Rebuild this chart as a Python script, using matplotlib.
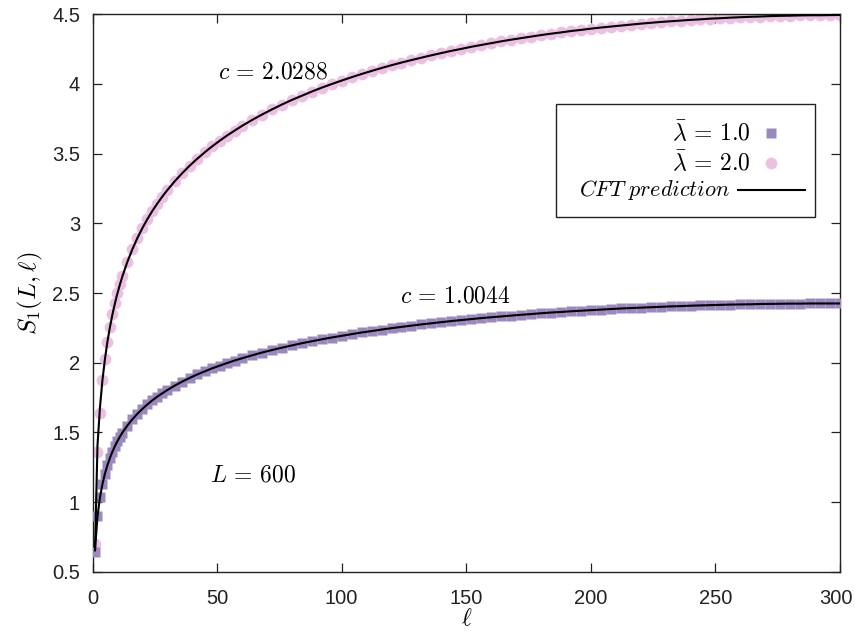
import matplotlib
matplotlib.use("Agg")
import matplotlib.pyplot as plt
import matplotlib.transforms as mtransforms
from matplotlib.patches import Rectangle

plt.rcParams['mathtext.fontset'] = 'cm'
plt.rcParams['font.family'] = ['Liberation Sans', 'DejaVu Sans']

# subsystem sizes (L = 600)
ell = [1, 2, 3, 4, 5, 6, 7, 8, 9, 10, 11, 12,
       14, 16, 18, 20, 22, 24, 26, 28, 30,
       33, 36, 39, 42, 45, 48, 51, 54, 57, 60,
       64, 68, 72, 76, 80, 84, 88, 92, 96, 100, 104, 108, 112, 116, 120,
       124, 128, 132, 136, 140, 144, 148, 152, 156, 160, 164, 168, 172,
       176, 180, 184, 188, 192, 196, 200, 204, 208, 212, 216, 220, 224,
       228, 232, 236, 240, 244, 248, 252, 256, 260, 264, 268, 272, 276,
       280, 284, 288, 292, 296, 300]

# lambda_bar = 1.0 data
s_lam1 = [0.640, 0.899, 1.035, 1.131, 1.206, 1.267, 1.318, 1.363, 1.403, 1.438, 1.470, 1.499,
          1.550, 1.595, 1.634, 1.669, 1.701, 1.730, 1.757, 1.781, 1.804,
          1.836, 1.865, 1.891, 1.916, 1.938, 1.960, 1.979, 1.998, 2.016, 2.032,
          2.053, 2.073, 2.091, 2.108, 2.124, 2.140, 2.154, 2.168, 2.181, 2.193, 2.205, 2.217, 2.227, 2.238, 2.248,
          2.257, 2.266, 2.275, 2.283, 2.291, 2.299, 2.306, 2.313, 2.320, 2.326, 2.332, 2.338, 2.344,
          2.349, 2.355, 2.360, 2.364, 2.369, 2.373, 2.377, 2.381, 2.385, 2.389, 2.392, 2.395, 2.398,
          2.401, 2.404, 2.406, 2.409, 2.411, 2.413, 2.415, 2.417, 2.418, 2.419, 2.421, 2.422, 2.423,
          2.424, 2.424, 2.425, 2.425, 2.425, 2.425]

# lambda_bar = 2.0 data
s_lam2 = [0.700, 1.360, 1.640, 1.878, 2.028, 2.152, 2.256, 2.346, 2.426, 2.497, 2.561, 2.620,
          2.724, 2.814, 2.894, 2.965, 3.029, 3.088, 3.141, 3.191, 3.237,
          3.301, 3.359, 3.413, 3.462, 3.508, 3.551, 3.591, 3.629, 3.664, 3.698,
          3.740, 3.779, 3.816, 3.851, 3.884, 3.914, 3.944, 3.972, 3.998, 4.023, 4.047, 4.070, 4.092, 4.113, 4.133,
          4.152, 4.170, 4.187, 4.204, 4.220, 4.236, 4.250, 4.265, 4.278, 4.291, 4.304, 4.316, 4.327,
          4.338, 4.349, 4.359, 4.368, 4.378, 4.386, 4.395, 4.403, 4.410, 4.417, 4.424, 4.431, 4.437,
          4.443, 4.448, 4.453, 4.458, 4.462, 4.467, 4.470, 4.474, 4.477, 4.480, 4.482, 4.485, 4.487,
          4.488, 4.490, 4.491, 4.491, 4.492, 4.492]

# CFT prediction curves (c = 1.0044 and c = 2.0288)
cft_c1 = [0.655, 0.899, 1.035, 1.131, 1.206, 1.267, 1.318, 1.363, 1.403, 1.438, 1.470, 1.499,
          1.550, 1.595, 1.634, 1.669, 1.701, 1.730, 1.757, 1.781, 1.804,
          1.836, 1.865, 1.891, 1.916, 1.938, 1.960, 1.979, 1.998, 2.016, 2.032,
          2.053, 2.073, 2.091, 2.108, 2.124, 2.140, 2.154, 2.168, 2.181, 2.193, 2.205, 2.217, 2.227, 2.238, 2.248,
          2.257, 2.266, 2.275, 2.283, 2.291, 2.299, 2.306, 2.313, 2.320, 2.326, 2.332, 2.338, 2.344,
          2.349, 2.355, 2.360, 2.364, 2.369, 2.373, 2.377, 2.381, 2.385, 2.389, 2.392, 2.395, 2.398,
          2.401, 2.404, 2.406, 2.409, 2.411, 2.413, 2.415, 2.417, 2.418, 2.419, 2.421, 2.422, 2.423,
          2.424, 2.424, 2.425, 2.425, 2.425, 2.425]
cft_c2 = [0.660, 1.409, 1.683, 1.878, 2.028, 2.152, 2.256, 2.346, 2.426, 2.497, 2.561, 2.620,
          2.724, 2.814, 2.894, 2.965, 3.029, 3.088, 3.141, 3.191, 3.237,
          3.301, 3.359, 3.413, 3.462, 3.508, 3.551, 3.591, 3.629, 3.664, 3.698,
          3.740, 3.779, 3.816, 3.851, 3.884, 3.914, 3.944, 3.972, 3.998, 4.023, 4.047, 4.070, 4.092, 4.113, 4.133,
          4.152, 4.170, 4.187, 4.204, 4.220, 4.236, 4.250, 4.265, 4.278, 4.291, 4.304, 4.316, 4.327,
          4.338, 4.349, 4.359, 4.368, 4.378, 4.386, 4.395, 4.403, 4.410, 4.417, 4.424, 4.431, 4.437,
          4.443, 4.448, 4.453, 4.458, 4.462, 4.467, 4.470, 4.474, 4.477, 4.480, 4.482, 4.485, 4.487,
          4.488, 4.490, 4.491, 4.491, 4.492, 4.493]

xticks = [0, 50, 100, 150, 200, 250, 300]
yticks = [0.5, 1, 1.5, 2, 2.5, 3, 3.5, 4, 4.5]
ytick_labels = ['0.5', '1', '1.5', '2', '2.5', '3', '3.5', '4', '4.5']

purple = '#9a88bf'
pink = '#ecc0e2'

fig = plt.figure(figsize=(8.55, 6.34), dpi=100)
ax = fig.add_axes([0.1082, 0.0978, 0.8743, 0.8801])

ax.plot(ell, s_lam2, 'o', color=pink, ms=8.5, mec='none', zorder=2)
ax.plot(ell, s_lam1, 's', color=purple, ms=7.5, mec='none', zorder=3)
ax.plot(ell, cft_c1, '-', color='black', lw=1.5, zorder=4)
ax.plot(ell, cft_c2, '-', color='black', lw=1.5, zorder=4)

ax.set_xlim(0, 300)
ax.set_ylim(0.5, 4.5)
ax.set_xticks(xticks)
ax.set_yticks(yticks)
ax.set_yticklabels(ytick_labels)
ax.tick_params(direction='in', length=6.5, width=0.9, labelsize=14.5,
               top=True, right=True, pad=9, colors='#222222')
ax.tick_params(axis='x', pad=12)
for sp in ax.spines.values():
    sp.set_linewidth(1.0)
    sp.set_color('#222222')

# nudge the last x label so it stays inside the canvas
last = ax.get_xticklabels()[-1]
last.set_transform(last.get_transform() +
                   mtransforms.ScaledTranslation(-4 / 100, 0, fig.dpi_scale_trans))

ax.set_xlabel(r'$\ell$', fontsize=17, labelpad=0)
ax.set_ylabel(r'$S_1(L,\ell)$', fontsize=18, labelpad=5)

ax.text(72.4, 4.084, r'$c\,=\,2.0288$', fontsize=17, ha='center', va='center')
ax.text(145.5, 2.478, r'$c\,=\,1.0044$', fontsize=17, ha='center', va='center')
ax.text(64.4, 1.195, r'$L\,=\,600$', fontsize=17, ha='center', va='center')

# legend drawn gnuplot-style: right-justified text, sample on the right
tr = ax.transAxes
ax.add_patch(Rectangle((0.620, 0.6362), 0.3466, 0.2025, transform=tr,
                       fill=False, ec='#222222', lw=1.0, zorder=5))
ax.text(0.8796, 0.7867, r'$\bar{\lambda}\,=\,1.0$', transform=tr, fontsize=17,
        ha='right', va='center')
ax.text(0.8796, 0.7330, r'$\bar{\lambda}\,=\,2.0$', transform=tr, fontsize=17,
        ha='right', va='center')
ax.text(0.853, 0.6846, r'$CFT\ prediction$', transform=tr, fontsize=16,
        ha='right', va='center')
ax.plot([0.9077], [0.7867], 's', color=purple, ms=7.5, mec='none', transform=tr, clip_on=False)
ax.plot([0.9077], [0.7330], 'o', color=pink, ms=8.5, mec='none', transform=tr, clip_on=False)
ax.plot([0.8636, 0.9532], [0.6846, 0.6846], '-', color='black', lw=1.5, transform=tr)

fig.savefig('out.png', dpi=100)
